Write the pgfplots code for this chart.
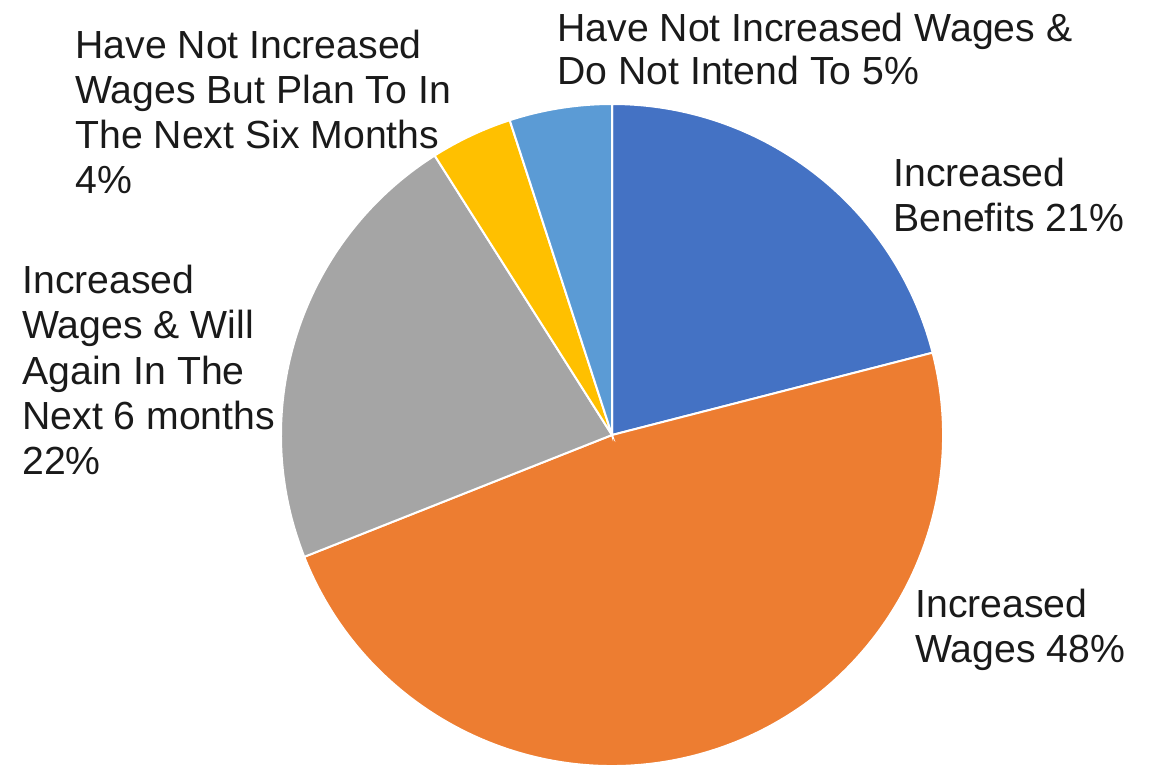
\documentclass[border=0pt]{standalone}
\usepackage{fontspec}
\setmainfont{Liberation Sans}
\usepackage{pgfplots}
\pgfplotsset{compat=1.18}

% slice shares in percent, clockwise from 12 o'clock
\def\pA{21}% Increased Benefits
\def\pB{48}% Increased Wages
\def\pC{22}% Increased Wages & Will Again
\def\pD{4}%  Have Not Increased But Plan To
\def\pE{5}%  Have Not Increased & Do Not Intend To
\def\R{165.5pt}

\definecolor{pieA}{HTML}{4472C4}
\definecolor{pieB}{HTML}{ED7D31}
\definecolor{pieC}{HTML}{A5A5A5}
\definecolor{pieD}{HTML}{FFC000}
\definecolor{pieE}{HTML}{5B9BD5}
\definecolor{labelcol}{HTML}{1A1A1A}

\begin{document}
\begin{tikzpicture}[
    slicelabel/.style={anchor=base west, inner sep=0pt, text=labelcol,
        font=\fontsize{19.6}{22}\selectfont},
]
\begin{axis}[
    width=575pt, height=384pt, scale only axis,
    xmin=0, xmax=1150, ymin=0, ymax=768,
    hide axis, clip=false,
]
    \path (axis cs:0,0) rectangle (axis cs:1150,768);
    \fill[pieA, draw=white, line width=1pt] (axis cs:612,333) -- ++(90:\R)
        arc[start angle=90, delta angle={-3.6*\pA}, radius=\R] -- cycle;
    \fill[pieB, draw=white, line width=1pt] (axis cs:612,333) -- ++({90-3.6*\pA}:\R)
        arc[start angle={90-3.6*\pA}, delta angle={-3.6*\pB}, radius=\R] -- cycle;
    \fill[pieC, draw=white, line width=1pt] (axis cs:612,333) -- ++({90-3.6*(\pA+\pB)}:\R)
        arc[start angle={90-3.6*(\pA+\pB)}, delta angle={-3.6*\pC}, radius=\R] -- cycle;
    \fill[pieD, draw=white, line width=1pt] (axis cs:612,333) -- ++({90-3.6*(\pA+\pB+\pC)}:\R)
        arc[start angle={90-3.6*(\pA+\pB+\pC)}, delta angle={-3.6*\pD}, radius=\R] -- cycle;
    \fill[pieE, draw=white, line width=1pt] (axis cs:612,333) -- ++({90-3.6*(\pA+\pB+\pC+\pD)}:\R)
        arc[start angle={90-3.6*(\pA+\pB+\pC+\pD)}, delta angle={-3.6*\pE}, radius=\R] -- cycle;

    % labels (pixel coordinates, y measured from the bottom)
    \node[slicelabel] at (axis cs:557,726) {Have Not Increased Wages \&};
    \node[slicelabel] at (axis cs:557,683) {Do Not Intend To 5\%};

    \node[slicelabel] at (axis cs:75,710) {Have Not Increased};
    \node[slicelabel] at (axis cs:75,665) {Wages But Plan To In};
    \node[slicelabel] at (axis cs:75,620) {The Next Six Months};
    \node[slicelabel] at (axis cs:75,575) {4\%};

    \node[slicelabel] at (axis cs:893,582) {Increased};
    \node[slicelabel] at (axis cs:893,537) {Benefits 21\%};

    \node[slicelabel] at (axis cs:22,475) {Increased};
    \node[slicelabel] at (axis cs:22,430) {Wages \& Will};
    \node[slicelabel] at (axis cs:22,384) {Again In The};
    \node[slicelabel] at (axis cs:22,339) {Next 6 months};
    \node[slicelabel] at (axis cs:22,294) {22\%};

    \node[slicelabel] at (axis cs:915,151) {Increased};
    \node[slicelabel] at (axis cs:915,106) {Wages 48\%};
\end{axis}
\pgfresetboundingbox
\useasboundingbox (current axis.south west) rectangle (current axis.north east);
\end{tikzpicture}
\end{document}
